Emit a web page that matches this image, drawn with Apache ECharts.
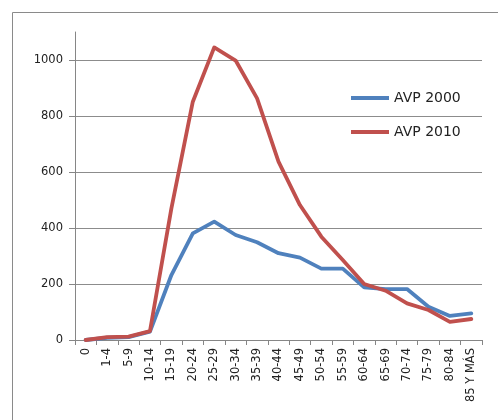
<!DOCTYPE html>
<html>
<head>
<meta charset="utf-8">
<script src="https://cdn.jsdelivr.net/npm/echarts@6/dist/echarts.min.js"></script>
<style>
  html, body { margin: 0; padding: 0; background: #fff; }
  #chart { width: 498px; height: 420px; }
</style>
</head>
<body>
<div id="chart"></div>
<script>
// Age groups along the horizontal axis
const ageGroups = ['0', '1-4', '5-9', '10-14', '15-19', '20-24', '25-29', '30-34', '35-39',
  '40-44', '45-49', '50-54', '55-59', '60-64', '65-69', '70-74', '75-79', '80-84', '85 Y MÁS'];

// Values per age group
const avp2000 = [0, 8, 10, 30, 232, 381, 423, 375, 349, 310, 294, 255, 255, 188, 182, 182, 119, 86, 95];
const avp2010 = [0, 10, 12, 32, 470, 851, 1045, 998, 863, 637, 482, 369, 286, 200, 176, 131, 107, 65, 75];

// Value axis labels
const yTicks = [0, 200, 400, 600, 800, 1000];

const chart = echarts.init(document.getElementById('chart'), null, { renderer: 'canvas' });

const labelFont = { fontFamily: 'DejaVu Sans', fontSize: 11.5, color: '#222' };

chart.setOption({
  animation: false,
  backgroundColor: '#fff',
  graphic: [{
    type: 'rect',
    shape: { x: 12.5, y: 12.5, width: 600, height: 600 },
    style: { fill: 'none', stroke: '#8a8a8a', lineWidth: 1 },
    silent: true
  }],
  grid: { left: 75, right: 16, top: 32, bottom: 80, containLabel: false },
  legend: {
    orient: 'vertical',
    left: 346,
    top: 86,
    itemWidth: 38,
    itemHeight: 4,
    itemGap: 20,
    icon: 'rect',
    textStyle: { fontFamily: 'DejaVu Sans', fontSize: 14, color: '#222' },
    data: ['AVP 2000', 'AVP 2010']
  },
  xAxis: {
    type: 'category',
    data: ageGroups,
    boundaryGap: true,
    axisLine: { lineStyle: { color: '#868686', width: 1 } },
    axisTick: { show: true, inside: false, length: 5, alignWithLabel: false, lineStyle: { color: '#868686' } },
    axisLabel: Object.assign({ rotate: 90, interval: 0, margin: 8 }, labelFont),
    splitLine: { show: false }
  },
  yAxis: {
    type: 'value',
    min: 0,
    max: 1100,
    interval: 200,
    axisLine: { show: true, lineStyle: { color: '#868686', width: 1 } },
    axisTick: { show: true, length: 6, customValues: yTicks, lineStyle: { color: '#868686' } },
    axisLabel: Object.assign({ margin: 12, customValues: yTicks, formatter: v => String(v) }, labelFont),
    splitLine: { show: true, lineStyle: { color: '#8c8c8c', width: 1 } }
  },
  series: [
    {
      name: 'AVP 2000',
      type: 'line',
      data: avp2000,
      symbol: 'none',
      smooth: false,
      color: '#4F81BD',
      lineStyle: { width: 3.8, color: '#4F81BD', cap: 'round', join: 'round' }
    },
    {
      name: 'AVP 2010',
      type: 'line',
      data: avp2010,
      symbol: 'none',
      smooth: false,
      color: '#C0504D',
      lineStyle: { width: 3.8, color: '#C0504D', cap: 'round', join: 'round' }
    }
  ]
});
</script>
</body>
</html>
